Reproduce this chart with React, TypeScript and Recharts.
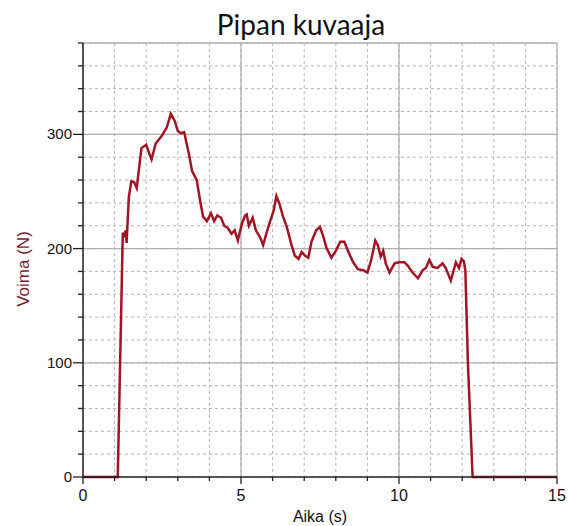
import React from 'react';
import { LineChart, Line, XAxis, YAxis, CartesianGrid, ReferenceLine } from 'recharts';

// Aika (s)
const times = [
  0, 1.1, 1.26, 1.3, 1.35, 1.38, 1.45, 1.53, 1.62, 1.7, 1.85, 2.0, 2.1, 2.17, 2.3, 2.5, 2.65, 2.78, 2.9, 3.0,
  3.1, 3.2, 3.35, 3.45, 3.6, 3.7, 3.8, 3.92, 4.05, 4.15, 4.25, 4.37, 4.47, 4.58, 4.7, 4.8, 4.9, 5.03, 5.13, 5.18,
  5.25, 5.37, 5.47, 5.6, 5.7, 5.8, 5.9, 6.03, 6.12, 6.22, 6.33, 6.45, 6.6, 6.7, 6.82, 6.92, 7.02, 7.13, 7.23, 7.38,
  7.5, 7.6, 7.7, 7.86, 8.0, 8.14, 8.27, 8.4, 8.55, 8.7, 8.87, 9.0, 9.12, 9.25, 9.33, 9.42, 9.5, 9.58, 9.7, 9.86,
  10.0, 10.17, 10.28, 10.43, 10.6, 10.75, 10.85, 10.96, 11.07, 11.22, 11.38, 11.48, 11.64, 11.8, 11.9, 11.98, 12.05, 12.1, 12.18, 12.33,
  15,
];

// Voima (N)
const forces = [
  0, 0, 214, 210, 216, 205, 245, 259, 258, 253, 288, 291, 283, 278, 292, 299, 306, 318, 312, 303,
  301, 302, 283, 268, 260, 243, 228, 224, 231, 224, 229, 227, 220, 218, 213, 216, 207, 222, 229, 230,
  220, 227, 216, 210, 203, 213, 222, 233, 246, 239, 228, 219, 203, 194, 191, 197, 194, 192, 206, 216,
  219, 211, 201, 192, 198, 206, 206, 197, 188, 182, 181, 179, 190, 207, 203, 193, 198, 187, 179, 187,
  188, 188, 185, 179, 174, 181, 183, 190, 184, 183, 187, 183, 172, 188, 183, 191, 189, 181, 100, 0,
  0,
];

const xTicks = [0, 1, 2, 3, 4, 5, 6, 7, 8, 9, 10, 11, 12, 13, 14, 15];
const yTicks = [0, 20, 40, 60, 80, 100, 120, 140, 160, 180, 200, 220, 240, 260, 280, 300, 320, 340, 360, 380];
const xMajor = [5, 10, 15];
const yMajor = [100, 200, 300, 380];

const data = times.map((t, i) => ({ t, v: forces[i] }));

const tickFont = '"Liberation Sans", Arial, sans-serif';

const XTick = (props: any) => {
  const { x, y, payload } = props;
  const major = payload.value % 5 === 0;
  return (
    <g>
      <line x1={x} x2={x} y1={y} y2={y + (major ? 7 : 4)} stroke="#222" strokeWidth={1.3} />
      {major && (
        <text x={x} y={y + 24} textAnchor="middle" fontSize={16} fill="#111" fontFamily={tickFont}>
          {payload.value}
        </text>
      )}
    </g>
  );
};

const YTick = (props: any) => {
  const { x, y, payload } = props;
  const major = payload.value % 100 === 0;
  return (
    <g>
      <line x1={x - (major ? 10 : 5)} x2={x} y1={y} y2={y} stroke="#222" strokeWidth={1.3} />
      {major && (
        <text x={x - 11} y={y + 5} textAnchor="end" fontSize={15} fill="#111" fontFamily={tickFont}>
          {payload.value}
        </text>
      )}
    </g>
  );
};

const App: React.FC = () => {
  return (
    <div style={{ position: 'absolute', left: 0, top: 0, width: 570, height: 526, background: '#fff' }}>
      <LineChart width={570} height={526} data={data} margin={{ top: 43, right: 13, bottom: 19, left: 23 }}>
        <CartesianGrid strokeDasharray="3 3" stroke="#b5b5b5" strokeWidth={1} />
        {xMajor.map((v) => (
          <ReferenceLine key={'x' + v} x={v} stroke="#b0b0b0" strokeWidth={1.3} />
        ))}
        {yMajor.map((v) => (
          <ReferenceLine key={'y' + v} y={v} stroke="#b0b0b0" strokeWidth={1.3} />
        ))}
        <XAxis
          dataKey="t"
          type="number"
          domain={[0, 15]}
          ticks={xTicks}
          interval={0}
          height={30}
          tickSize={0}
          tickMargin={0}
          tickLine={false}
          tick={<XTick />}
          axisLine={{ stroke: '#222', strokeWidth: 1.5 }}
        />
        <YAxis
          type="number"
          domain={[0, 380]}
          ticks={yTicks}
          interval={0}
          width={60}
          tickSize={0}
          tickMargin={0}
          tickLine={false}
          tick={<YTick />}
          axisLine={{ stroke: '#222', strokeWidth: 1.5 }}
        />
        <Line
          type="linear"
          dataKey="v"
          stroke="#a01424"
          strokeWidth={2.5}
          dot={false}
          isAnimationActive={false}
        />
      </LineChart>
      <svg width={570} height={526} style={{ position: 'absolute', left: 0, top: 0, pointerEvents: 'none' }}>
        <text x={301} y={34.5} textAnchor="middle" fontSize={28} fill="#111" fontFamily="Lato, sans-serif">
          Pipan kuvaaja
        </text>
        <text x={320} y={522} textAnchor="middle" fontSize={16} fill="#111" fontFamily={tickFont}>
          Aika (s)
        </text>
        <text
          transform="translate(28.5,269) rotate(-90)"
          textAnchor="middle"
          fontSize={17}
          fill="#7b1a2b"
          fontFamily={tickFont}
        >
          Voima (N)
        </text>
      </svg>
    </div>
  );
};

export default App;
